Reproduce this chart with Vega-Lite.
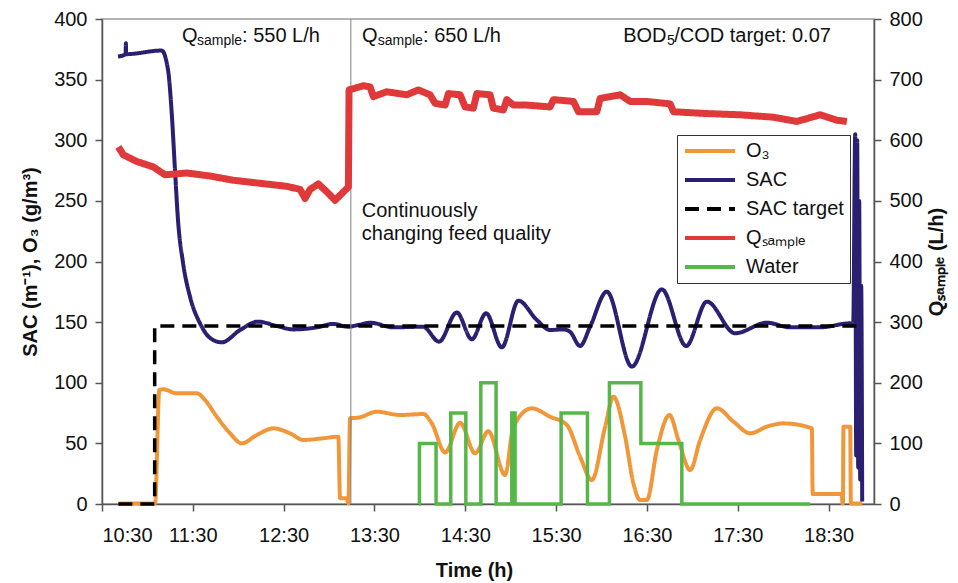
{
  "$schema": "https://vega.github.io/schema/vega-lite/v6.json",
  "width": 772,
  "height": 485,
  "autosize": {"type": "none"},
  "padding": {"left": 102, "top": 19, "right": 84, "bottom": 79},
  "background": "white",
  "config": {
    "font": "Liberation Sans",
    "view": {"stroke": "#9a9a9a", "strokeWidth": 1.5},
    "axis": {"grid": false, "labelFontSize": 20, "labelColor": "#111", "domainColor": "#555", "domainWidth": 1.5, "tickColor": "#555", "tickWidth": 1.5, "tickSize": 7, "titleFontSize": 20, "titleFontWeight": "bold", "titleColor": "#111"}
  },
  "encoding": {
    "x": {"field": "h", "type": "quantitative", "scale": {"domain": [10.5, 19], "nice": false, "zero": false},
      "axis": {"values": [10.5, 11.5, 12.5, 13.5, 14.5, 15.5, 16.5, 17.5, 18.5], "labelExpr": "floor(datum.value) + ':30'", "title": "Time (h)", "labelPadding": 14, "titlePadding": 15, "titleFontSize": 20, "titleX": 372}}
  },
  "layer": [
    {
      "layer": [
        {
          "data": {"values": [
            {"s":"O₃","h":10.68,"v":0.5},{"s":"O₃","h":11.084,"v":0.5},{"s":"O₃","h":11.131,"v":94},{"s":"O₃","h":11.175,"v":94.6},{"s":"O₃","h":11.323,"v":91.3},{"s":"O₃","h":11.543,"v":91.3},{"s":"O₃","h":11.634,"v":85.8},{"s":"O₃","h":11.763,"v":72},{"s":"O₃","h":11.91,"v":58.3},{"s":"O₃","h":12.039,"v":50},{"s":"O₃","h":12.204,"v":56.9},{"s":"O₃","h":12.387,"v":62.4},{"s":"O₃","h":12.57,"v":58.3},{"s":"O₃","h":12.717,"v":52.8},{"s":"O₃","h":12.937,"v":54.2},{"s":"O₃","h":13.102,"v":55.5},{"s":"O₃","h":13.121,"v":4.7},{"s":"O₃","h":13.195,"v":4.7},{"s":"O₃","h":13.213,"v":0.5},{"s":"O₃","h":13.231,"v":70.7},{"s":"O₃","h":13.323,"v":71.2},{"s":"O₃","h":13.525,"v":76.1},{"s":"O₃","h":13.782,"v":73.4},{"s":"O₃","h":14.039,"v":74.2},{"s":"O₃","h":14.131,"v":66.5},{"s":"O₃","h":14.278,"v":42.5},{"s":"O₃","h":14.443,"v":67},{"s":"O₃","h":14.608,"v":41.8},{"s":"O₃","h":14.754,"v":60},{"s":"O₃","h":14.938,"v":23.9},{"s":"O₃","h":15.03,"v":63.8},{"s":"O₃","h":15.232,"v":78.9},{"s":"O₃","h":15.434,"v":72},{"s":"O₃","h":15.618,"v":65.2},{"s":"O₃","h":15.764,"v":39},{"s":"O₃","h":15.893,"v":19.8},{"s":"O₃","h":16.04,"v":63.8},{"s":"O₃","h":16.131,"v":88.5},{"s":"O₃","h":16.26,"v":55.5},{"s":"O₃","h":16.351,"v":17},{"s":"O₃","h":16.425,"v":3.3},{"s":"O₃","h":16.499,"v":3.3},{"s":"O₃","h":16.609,"v":44.5},{"s":"O₃","h":16.748,"v":73.4},{"s":"O₃","h":16.847,"v":52.8},{"s":"O₃","h":16.976,"v":28},{"s":"O₃","h":17.086,"v":52.8},{"s":"O₃","h":17.27,"v":78.9},{"s":"O₃","h":17.453,"v":67.9},{"s":"O₃","h":17.637,"v":58.3},{"s":"O₃","h":17.82,"v":63.8},{"s":"O₃","h":18.003,"v":66.5},{"s":"O₃","h":18.316,"v":62.4},{"s":"O₃","h":18.325,"v":8.2},{"s":"O₃","h":18.647,"v":8.2},{"s":"O₃","h":18.652,"v":0.5},{"s":"O₃","h":18.658,"v":0.5},{"s":"O₃","h":18.664,"v":63.8},{"s":"O₃","h":18.738,"v":63.8},{"s":"O₃","h":18.745,"v":0.5},{"s":"O₃","h":18.87,"v":0.5},
            {"s":"SAC","h":10.676,"v":369},{"s":"SAC","h":10.76,"v":371},{"s":"SAC","h":10.763,"v":380},{"s":"SAC","h":10.766,"v":371},{"s":"SAC","h":11.157,"v":374},{"s":"SAC","h":11.227,"v":358},{"s":"SAC","h":11.268,"v":322},{"s":"SAC","h":11.304,"v":275},{"s":"SAC","h":11.337,"v":234},{"s":"SAC","h":11.392,"v":199},{"s":"SAC","h":11.469,"v":171},{"s":"SAC","h":11.579,"v":149},{"s":"SAC","h":11.689,"v":137},{"s":"SAC","h":11.818,"v":133.3},{"s":"SAC","h":12.02,"v":143.5},{"s":"SAC","h":12.218,"v":150.4},{"s":"SAC","h":12.424,"v":146.8},{"s":"SAC","h":12.604,"v":144},{"s":"SAC","h":12.865,"v":145.7},{"s":"SAC","h":13.044,"v":148.5},{"s":"SAC","h":13.209,"v":146.2},{"s":"SAC","h":13.319,"v":147.6},{"s":"SAC","h":13.452,"v":149.5},{"s":"SAC","h":13.705,"v":145.7},{"s":"SAC","h":14.035,"v":146.2},{"s":"SAC","h":14.211,"v":133.9},{"s":"SAC","h":14.406,"v":158},{"s":"SAC","h":14.572,"v":135.8},{"s":"SAC","h":14.729,"v":157.3},{"s":"SAC","h":14.902,"v":129.2},{"s":"SAC","h":15.085,"v":167.7},{"s":"SAC","h":15.287,"v":151.8},{"s":"SAC","h":15.434,"v":143.5},{"s":"SAC","h":15.58,"v":144},{"s":"SAC","h":15.654,"v":142},{"s":"SAC","h":15.764,"v":130.3},{"s":"SAC","h":15.874,"v":146.2},{"s":"SAC","h":16.058,"v":175.1},{"s":"SAC","h":16.334,"v":113.3},{"s":"SAC","h":16.664,"v":177},{"s":"SAC","h":16.932,"v":130.3},{"s":"SAC","h":17.16,"v":166.9},{"s":"SAC","h":17.471,"v":140.8},{"s":"SAC","h":17.82,"v":149.5},{"s":"SAC","h":18.077,"v":145.7},{"s":"SAC","h":18.407,"v":145.7},{"s":"SAC","h":18.738,"v":149},{"s":"SAC","h":18.771,"v":148},{"s":"SAC","h":18.793,"v":305},{"s":"SAC","h":18.804,"v":40},{"s":"SAC","h":18.815,"v":300},{"s":"SAC","h":18.826,"v":30},{"s":"SAC","h":18.837,"v":250},{"s":"SAC","h":18.848,"v":20},{"s":"SAC","h":18.859,"v":180},{"s":"SAC","h":18.87,"v":2}
          ]},
          "mark": {"type": "line", "interpolate": "monotone", "strokeWidth": 4, "strokeJoin": "round"},
          "encoding": {
            "y": {"field": "v", "type": "quantitative", "scale": {"domain": [0, 400], "nice": false}, "axis": {"values": [0, 50, 100, 150, 200, 250, 300, 350, 400], "title": "SAC (m⁻¹), O₃ (g/m³)", "labelPadding": 8, "titlePadding": 13}},
            "color": {"field": "s", "type": "nominal", "scale": {"domain": ["O₃", "SAC", "SAC target", "Qₛₐₘₚₗₑ", "Water"], "range": ["#F0973A", "#2A1F70", "#000000", "#E0393A", "#55B748"]},
              "legend": {"orient": "none", "legendX": 575, "legendY": 116, "title": null, "symbolType": "stroke", "symbolSize": 2500, "symbolStrokeWidth": 4, "clipHeight": 20, "labelFontSize": 20, "labelOffset": 9, "rowPadding": 9, "padding": 6, "strokeColor": "#333", "fillColor": "white", "labelColor": "#111"}},
            "strokeDash": {"field": "s", "type": "nominal", "scale": {"domain": ["O₃", "SAC", "SAC target", "Qₛₐₘₚₗₑ", "Water"], "range": [[1, 0], [1, 0], [14, 8], [1, 0], [1, 0]]},
              "legend": {"orient": "none", "legendX": 575, "legendY": 116, "title": null, "symbolType": "stroke", "symbolSize": 2500, "symbolStrokeWidth": 4, "clipHeight": 20, "labelFontSize": 20, "labelOffset": 9, "rowPadding": 9, "padding": 6, "strokeColor": "#333", "fillColor": "white", "labelColor": "#111"}}
          }
        },
        {
          "data": {"values": [
            {"s":"SAC target","h":10.68,"v":0},{"s":"SAC target","h":11.08,"v":146.8},{"s":"SAC target","h":18.83,"v":146.8},
            {"s":"Water","h":13.99,"v":0},{"s":"Water","h":13.995,"v":50},{"s":"Water","h":14.178,"v":0},{"s":"Water","h":14.34,"v":75},{"s":"Water","h":14.506,"v":0},{"s":"Water","h":14.671,"v":100},{"s":"Water","h":14.839,"v":0},{"s":"Water","h":15.012,"v":75},{"s":"Water","h":15.048,"v":0},{"s":"Water","h":15.555,"v":75},{"s":"Water","h":15.845,"v":0},{"s":"Water","h":16.087,"v":100},{"s":"Water","h":16.433,"v":50},{"s":"Water","h":16.884,"v":0},{"s":"Water","h":18.297,"v":0}
          ]},
          "mark": {"type": "line", "interpolate": "step-after", "strokeWidth": 3.5},
          "encoding": {
            "y": {"field": "v", "type": "quantitative", "scale": {"domain": [0, 400], "nice": false}, "axis": {"values": [0, 50, 100, 150, 200, 250, 300, 350, 400], "title": "SAC (m⁻¹), O₃ (g/m³)", "labelPadding": 8, "titlePadding": 13}},
            "color": {"field": "s", "type": "nominal", "scale": {"domain": ["O₃", "SAC", "SAC target", "Qₛₐₘₚₗₑ", "Water"], "range": ["#F0973A", "#2A1F70", "#000000", "#E0393A", "#55B748"]}},
            "strokeDash": {"field": "s", "type": "nominal", "scale": {"domain": ["O₃", "SAC", "SAC target", "Qₛₐₘₚₗₑ", "Water"], "range": [[1, 0], [1, 0], [14, 8], [1, 0], [1, 0]]}}
          }
        },
        {
          "data": {"values": [{"h": 13.24}]},
          "mark": {"type": "rule", "color": "#808080", "strokeWidth": 1},
          "encoding": {}
        },
        {
          "data": {"values": [
            {"h": 11.381, "v": 381, "t": "Q"}, {"h": 12.042, "v": 381, "t": ": 550 L/h"},
            {"h": 13.363, "v": 381, "t": "Q"}, {"h": 14.035, "v": 381, "t": ": 650 L/h"},
            {"h": 16.238, "v": 381, "t": "BOD"}, {"h": 16.8, "v": 381, "t": "/COD target: 0.07"},
            {"h": 13.36, "v": 237, "t": "Continuously"}, {"h": 13.36, "v": 217.7, "t": "changing feed quality"}
          ]},
          "mark": {"type": "text", "align": "left", "baseline": "alphabetic", "fontSize": 20, "color": "#111"},
          "encoding": {
            "y": {"field": "v", "type": "quantitative", "scale": {"domain": [0, 400], "nice": false}, "axis": {"values": [0, 50, 100, 150, 200, 250, 300, 350, 400], "title": "SAC (m⁻¹), O₃ (g/m³)", "labelPadding": 8, "titlePadding": 13}},
            "text": {"field": "t"}
          }
        },
        {
          "data": {"values": [
            {"h": 11.546, "v": 378.6, "t": "sample"}, {"h": 13.536, "v": 378.6, "t": "sample"}, {"h": 16.72, "v": 378.6, "t": "5"}
          ]},
          "mark": {"type": "text", "align": "left", "baseline": "alphabetic", "fontSize": 14, "color": "#111"},
          "encoding": {
            "y": {"field": "v", "type": "quantitative", "scale": {"domain": [0, 400], "nice": false}, "axis": {"values": [0, 50, 100, 150, 200, 250, 300, 350, 400], "title": "SAC (m⁻¹), O₃ (g/m³)", "labelPadding": 8, "titlePadding": 13}},
            "text": {"field": "t"}
          }
        }
      ]
    },
    {
      "data": {"values": [
        {"s":"Qₛₐₘₚₗₑ","h":10.68,"v":589},{"s":"Qₛₐₘₚₗₑ","h":10.735,"v":576},{"s":"Qₛₐₘₚₗₑ","h":10.882,"v":565},{"s":"Qₛₐₘₚₗₑ","h":11.065,"v":556},{"s":"Qₛₐₘₚₗₑ","h":11.194,"v":543},{"s":"Qₛₐₘₚₗₑ","h":11.433,"v":546},{"s":"Qₛₐₘₚₗₑ","h":11.689,"v":541},{"s":"Qₛₐₘₚₗₑ","h":11.946,"v":534},{"s":"Qₛₐₘₚₗₑ","h":12.24,"v":529},{"s":"Qₛₐₘₚₗₑ","h":12.534,"v":524},{"s":"Qₛₐₘₚₗₑ","h":12.681,"v":519},{"s":"Qₛₐₘₚₗₑ","h":12.736,"v":504},{"s":"Qₛₐₘₚₗₑ","h":12.791,"v":519},{"s":"Qₛₐₘₚₗₑ","h":12.882,"v":528},{"s":"Qₛₐₘₚₗₑ","h":12.975,"v":515},{"s":"Qₛₐₘₚₗₑ","h":13.066,"v":501},{"s":"Qₛₐₘₚₗₑ","h":13.14,"v":512},{"s":"Qₛₐₘₚₗₑ","h":13.213,"v":523},{"s":"Qₛₐₘₚₗₑ","h":13.22,"v":683},{"s":"Qₛₐₘₚₗₑ","h":13.378,"v":690},{"s":"Qₛₐₘₚₗₑ","h":13.452,"v":688},{"s":"Qₛₐₘₚₗₑ","h":13.488,"v":672},{"s":"Qₛₐₘₚₗₑ","h":13.635,"v":680},{"s":"Qₛₐₘₚₗₑ","h":13.856,"v":675},{"s":"Qₛₐₘₚₗₑ","h":13.983,"v":683},{"s":"Qₛₐₘₚₗₑ","h":14.112,"v":675},{"s":"Qₛₐₘₚₗₑ","h":14.167,"v":661},{"s":"Qₛₐₘₚₗₑ","h":14.278,"v":658},{"s":"Qₛₐₘₚₗₑ","h":14.314,"v":677},{"s":"Qₛₐₘₚₗₑ","h":14.443,"v":675},{"s":"Qₛₐₘₚₗₑ","h":14.498,"v":655},{"s":"Qₛₐₘₚₗₑ","h":14.589,"v":653},{"s":"Qₛₐₘₚₗₑ","h":14.627,"v":677},{"s":"Qₛₐₘₚₗₑ","h":14.773,"v":675},{"s":"Qₛₐₘₚₗₑ","h":14.809,"v":653},{"s":"Qₛₐₘₚₗₑ","h":14.92,"v":650},{"s":"Qₛₐₘₚₗₑ","h":14.957,"v":667},{"s":"Qₛₐₘₚₗₑ","h":15.03,"v":658},{"s":"Qₛₐₘₚₗₑ","h":15.177,"v":658},{"s":"Qₛₐₘₚₗₑ","h":15.434,"v":655},{"s":"Qₛₐₘₚₗₑ","h":15.47,"v":667},{"s":"Qₛₐₘₚₗₑ","h":15.691,"v":664},{"s":"Qₛₐₘₚₗₑ","h":15.746,"v":647},{"s":"Qₛₐₘₚₗₑ","h":15.948,"v":647},{"s":"Qₛₐₘₚₗₑ","h":15.985,"v":669},{"s":"Qₛₐₘₚₗₑ","h":16.205,"v":675},{"s":"Qₛₐₘₚₗₑ","h":16.315,"v":664},{"s":"Qₛₐₘₚₗₑ","h":16.499,"v":664},{"s":"Qₛₐₘₚₗₑ","h":16.756,"v":660},{"s":"Qₛₐₘₚₗₑ","h":16.792,"v":647},{"s":"Qₛₐₘₚₗₑ","h":17.16,"v":644},{"s":"Qₛₐₘₚₗₑ","h":17.526,"v":642},{"s":"Qₛₐₘₚₗₑ","h":17.893,"v":638},{"s":"Qₛₐₘₚₗₑ","h":18.151,"v":631},{"s":"Qₛₐₘₚₗₑ","h":18.407,"v":642},{"s":"Qₛₐₘₚₗₑ","h":18.591,"v":633},{"s":"Qₛₐₘₚₗₑ","h":18.701,"v":631}
      ]},
      "mark": {"type": "line", "strokeWidth": 7, "strokeJoin": "round"},
      "encoding": {
        "y": {"field": "v", "type": "quantitative", "scale": {"domain": [0, 800], "nice": false}, "axis": {"orient": "right", "values": [0, 100, 200, 300, 400, 500, 600, 700, 800], "title": "Qₛₐₘₚₗₑ (L/h)", "titleAngle": -90, "labelPadding": 8, "titlePadding": 24}},
        "color": {"field": "s", "type": "nominal", "scale": {"domain": ["O₃", "SAC", "SAC target", "Qₛₐₘₚₗₑ", "Water"], "range": ["#F0973A", "#2A1F70", "#000000", "#E0393A", "#55B748"]}},
        "strokeDash": {"field": "s", "type": "nominal", "scale": {"domain": ["O₃", "SAC", "SAC target", "Qₛₐₘₚₗₑ", "Water"], "range": [[1, 0], [1, 0], [14, 8], [1, 0], [1, 0]]}}
      }
    }
  ],
  "resolve": {"scale": {"y": "independent"}}
}
